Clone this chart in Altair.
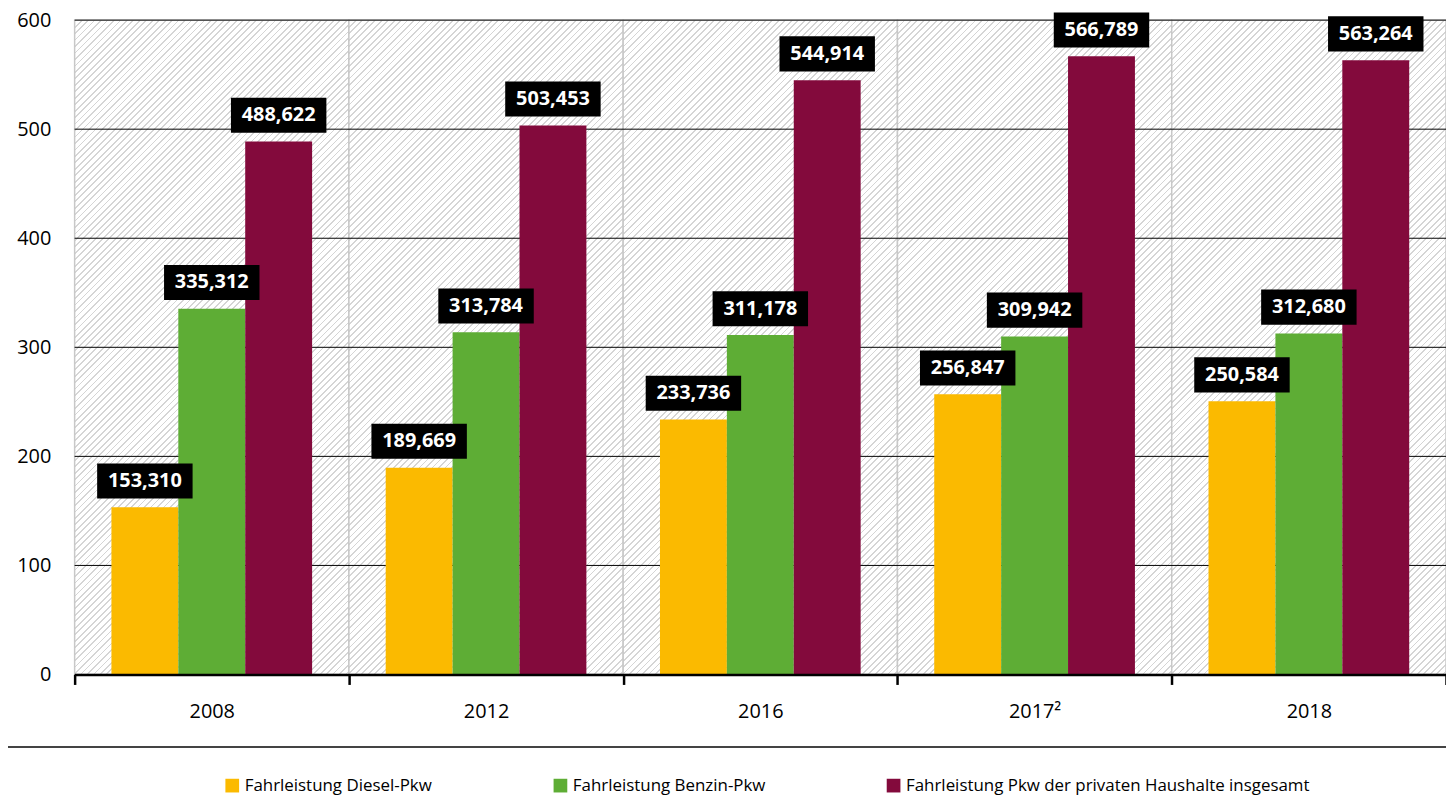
import altair as alt
import pandas as pd

FONT = "Open Sans"

years = ["2008", "2012", "2016", "2017²", "2018"]
diesel = [153.310, 189.669, 233.736, 256.847, 250.584]
benzin = [335.312, 313.784, 311.178, 309.942, 312.680]
gesamt = [488.622, 503.453, 544.914, 566.789, 563.264]
series = [
    "Fahrleistung Diesel-Pkw",
    "Fahrleistung Benzin-Pkw",
    "Fahrleistung Pkw der privaten Haushalte insgesamt",
]
colors = ["#fbba00", "#5ead35", "#830a3c"]
y_ticks = [0, 100, 200, 300, 400, 500, 600]

rows = []
for i, yr in enumerate(years):
    for s, vals in zip(series, [diesel, benzin, gesamt]):
        rows.append({"Jahr": yr, "Serie": s, "Wert": vals[i],
                     "Label": f"{vals[i]:.3f}".replace(".", ",")})
df = pd.DataFrame(rows)
df_ticks = pd.DataFrame({"v": y_ticks})
df_years = pd.DataFrame({"Jahr": years})

W, H = 1379, 658
WB = W / len(years)

# diagonal hatch (per category band) built as a striped linear gradient
period = 6.5
lw = 1.8
n = int((WB + H) / period) + 1
span = n * period
stops = []
for k in range(n):
    s = k * period / span
    e = (k * period + lw) / span
    stops += [
        alt.GradientStop(offset=s, color="#ffffff"),
        alt.GradientStop(offset=s, color="#d5d5d5"),
        alt.GradientStop(offset=e, color="#d5d5d5"),
        alt.GradientStop(offset=e, color="#ffffff"),
    ]
kf = span / H / (1 + (WB / H) ** 2)
hatch = alt.LinearGradient(gradient="linear", stops=stops,
                           x1=0, y1=0, x2=kf * WB / H, y2=kf)

xscale = alt.Scale(paddingInner=0, paddingOuter=0)

x = alt.X("Jahr:N", sort=years, scale=xscale,
          axis=alt.Axis(title=None, labelAngle=0, tickBand="extent", grid=False,
                        domainColor="black", domainWidth=2.5,
                        tickColor="black", tickWidth=2.5, tickSize=10,
                        labelPadding=17, labelFontSize=20, labelColor="black",
                        labelFont=FONT))
xo = alt.XOffset("Serie:N", sort=series,
                 scale=alt.Scale(paddingInner=0, paddingOuter=0.55))
y = alt.Y("Wert:Q", scale=alt.Scale(domain=[0, 600], nice=False),
          axis=alt.Axis(title=None, values=y_ticks, grid=False, domain=False,
                        ticks=False, labelPadding=24, labelFontSize=20,
                        labelColor="black", labelFont=FONT))
color = alt.Color("Serie:N", sort=series,
                  scale=alt.Scale(domain=series, range=colors),
                  legend=alt.Legend(title=None, orient="none", direction="horizontal",
                                    legendX=150, legendY=761, symbolType="square",
                                    symbolSize=190, symbolStrokeWidth=0,
                                    symbolOpacity=1, labelFontSize=17,
                                    labelFont=FONT, labelColor="black",
                                    columnPadding=120, labelOffset=4,
                                    labelLimit=600))

bg = alt.Chart(df_years).mark_rect(fill=hatch, stroke="#c8c8c8", strokeWidth=1.5).encode(
    x=x, y=alt.datum(600), y2=alt.datum(0))

hgrid = alt.Chart(df_ticks).mark_rule(color="black", strokeWidth=1).encode(
    y=alt.Y("v:Q"))

bars = alt.Chart(df).mark_bar().encode(x=x, xOffset=xo, y=y, color=color)

box_shape = "M-1.333,-0.49L1.333,-0.49L1.333,0.49L-1.333,0.49Z"
boxes = alt.Chart(df).mark_point(shape=box_shape, size=5184, filled=True,
                                 color="black", opacity=1, strokeWidth=0,
                                 yOffset=-26.5).encode(
    x=x, xOffset=xo, y=alt.Y("Wert:Q"))

texts = alt.Chart(df).mark_text(color="white", font=FONT, fontWeight="bold",
                                fontSize=20, baseline="middle", yOffset=-26.5).encode(
    x=x, xOffset=xo, y=alt.Y("Wert:Q"), text="Label:N")

sep = alt.Chart(df_years).mark_rule(color="#444444", strokeWidth=2).encode(
    x=alt.value(-80), x2=alt.value(W + 20), y=alt.value(731))

chart = alt.layer(bg, hgrid, bars, boxes, texts, sep).properties(
    width=W, height=H,
    autosize=alt.AutoSizeParams(type="none"),
    padding={"left": 67, "top": 10, "right": 0, "bottom": 120},
).configure_view(stroke=None)

chart.save("out.html", embed_options={"renderer": "svg", "actions": False})
